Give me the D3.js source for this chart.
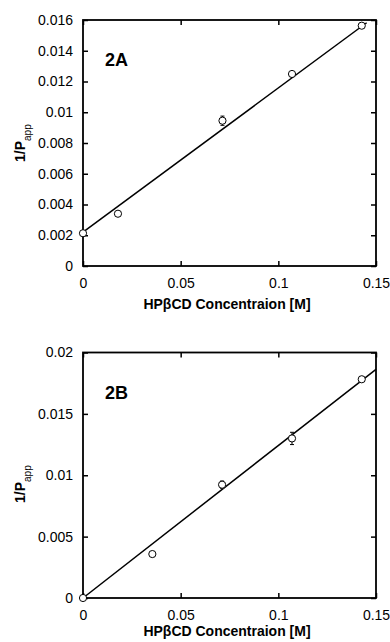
<!DOCTYPE html>
<html><head><meta charset="utf-8">
<script src="https://cdn.jsdelivr.net/npm/d3@7"></script>
<style>body{margin:0;background:#fff}svg{display:block}</style>
</head><body>
<script>
// Panel 2A
const xA = [0, 0.0179, 0.0714, 0.107, 0.1427];
const yA = [0.00213, 0.0034, 0.00945, 0.01249, 0.01563];
const errA = [0.0001, 0.0001, 0.0003, 0.0001, 0.0001];
const fitA = [[0, 0.0022], [0.1452, 0.01582]];
const yTicksA = [0, 0.002, 0.004, 0.006, 0.008, 0.01, 0.012, 0.014, 0.016];
// Panel 2B
const xB = [0, 0.0355, 0.0712, 0.107, 0.1427];
const yB = [0, 0.00358, 0.00923, 0.0130, 0.01782];
const errB = [0.0001, 0.0001, 0.0003, 0.0005, 0.0001];
const fitB = [[0, 0], [0.15, 0.01863]];
const yTicksB = [0, 0.005, 0.01, 0.015, 0.02];
const xTicks = [0, 0.05, 0.1, 0.15];
const xLabelText = "HPβCD Concentraion [M]";

const svg = d3.select("body").append("svg").attr("width", 390).attr("height", 642);
const font = "Liberation Sans, Arial, Helvetica, sans-serif";

function panel(o) {
  const {top, bottom, ymax, xs, ys, errs, fit, yTicks, label, yLabelY, xLabelDy} = o;
  const left = 83, right = 376;
  const x = d3.scaleLinear().domain([0, 0.15]).range([left, right]);
  const y = d3.scaleLinear().domain([0, ymax]).range([bottom, top]);
  const g = svg.append("g");
  const fmt = d => d === 0 ? "0" : String(+d.toFixed(4));

  // axes with inward ticks
  const axL = g.append("g").attr("transform", `translate(${left},0)`)
    .call(d3.axisLeft(y).tickValues(yTicks).tickSize(-5).tickPadding(10).tickFormat(fmt));
  const axR = g.append("g").attr("transform", `translate(${right},0)`)
    .call(d3.axisRight(y).tickValues(yTicks).tickSize(-5).tickFormat(""));
  const axB = g.append("g").attr("transform", `translate(0,${bottom})`)
    .call(d3.axisBottom(x).tickValues(xTicks).tickSize(-5).tickPadding(12).tickFormat(fmt));
  const axT = g.append("g").attr("transform", `translate(0,${top})`)
    .call(d3.axisTop(x).tickValues(xTicks).tickSize(-5).tickFormat(""));
  [axL, axR, axB, axT].forEach(a => {
    a.select(".domain").remove();
    a.selectAll("line").attr("stroke", "#000").attr("stroke-width", 1.5);
    a.selectAll("text").attr("font-family", font).attr("font-size", 14).attr("fill", "#000");
  });
  g.append("rect").attr("x", left).attr("y", top).attr("width", right - left).attr("height", bottom - top)
    .attr("fill", "none").attr("stroke", "#000").attr("stroke-width", 1.8);

  // fit line
  g.append("line").attr("x1", x(fit[0][0])).attr("y1", y(fit[0][1]))
    .attr("x2", x(fit[1][0])).attr("y2", y(fit[1][1]))
    .attr("stroke", "#000").attr("stroke-width", 1.5);

  // error bars
  const data = xs.map((v, i) => ({x: v, y: ys[i], e: errs[i]}));
  const eb = g.append("g").selectAll("g").data(data).join("g");
  eb.append("line").attr("x1", d => x(d.x)).attr("x2", d => x(d.x))
    .attr("y1", d => y(d.y - d.e)).attr("y2", d => y(d.y + d.e)).attr("stroke", "#000").attr("stroke-width", 1);
  eb.append("line").attr("x1", d => x(d.x) - 2).attr("x2", d => x(d.x) + 2)
    .attr("y1", d => y(d.y + d.e)).attr("y2", d => y(d.y + d.e)).attr("stroke", "#000").attr("stroke-width", 1);
  eb.append("line").attr("x1", d => x(d.x) - 2).attr("x2", d => x(d.x) + 2)
    .attr("y1", d => y(d.y - d.e)).attr("y2", d => y(d.y - d.e)).attr("stroke", "#000").attr("stroke-width", 1);

  // markers
  g.append("g").selectAll("circle").data(data).join("circle")
    .attr("cx", d => x(d.x)).attr("cy", d => y(d.y)).attr("r", 3.6)
    .attr("fill", "#fff").attr("stroke", "#000").attr("stroke-width", 1);

  // panel label
  g.append("text").attr("x", 105).attr("y", top + 46).text(label)
    .attr("font-family", font).attr("font-size", 18).attr("font-weight", "bold");

  // x label
  g.append("text").attr("x", 227).attr("y", bottom + xLabelDy).attr("text-anchor", "middle")
    .attr("font-family", font).attr("font-size", 14).attr("font-weight", "bold").text(xLabelText);

  // y label
  const yl = g.append("text").attr("transform", `translate(25,${yLabelY}) rotate(-90)`)
    .attr("font-family", font).attr("font-size", 14).attr("font-weight", "bold");
  yl.append("tspan").text("1/P");
  yl.append("tspan").attr("dy", 6).attr("font-size", 10).attr("font-weight", "normal").text("app");
}

panel({top: 20, bottom: 266, ymax: 0.016, xs: xA, ys: yA, errs: errA, fit: fitA, yTicks: yTicksA, label: "2A", yLabelY: 162, xLabelDy: 43});
panel({top: 352.5, bottom: 598, ymax: 0.02, xs: xB, ys: yB, errs: errB, fit: fitB, yTicks: yTicksB, label: "2B", yLabelY: 503, xLabelDy: 38});
</script>
</body></html>
